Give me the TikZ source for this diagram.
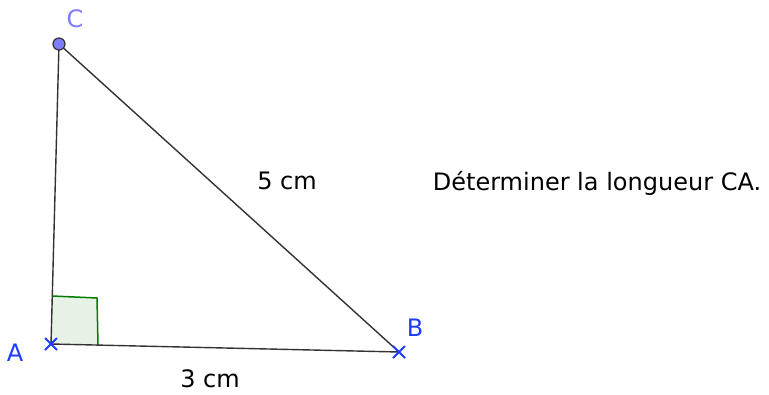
\documentclass[tikz,border=0pt]{standalone}
\usepackage{fontspec}
\setmainfont{DejaVu Sans}
\usetikzlibrary{calc}
\definecolor{ptblue}{HTML}{1E3CFF}
\definecolor{ptlight}{HTML}{7D7DFF}
\definecolor{anggreen}{HTML}{007D00}
\tikzset{
  seg/.style={draw=black!80, line width=1.4pt},
  lbl/.style={font=\fontsize{24}{28}\selectfont, inner sep=0pt},
  cross/.style={draw=ptblue, line width=1.8pt}
}
\begin{document}
\begin{tikzpicture}[x=1pt,y=-1pt]
\useasboundingbox (0,0) rectangle (769,394);
\coordinate (A) at (51,344);
\coordinate (B) at (399,352);
\coordinate (C) at (59,44);
\coordinate (Q1) at (98,345);
\coordinate (Q2) at (97,298);
\coordinate (Q3) at (52,296);
\fill[anggreen!10] (A) -- (Q1) -- (Q2) -- (Q3) -- cycle;
\draw[anggreen, line width=1.5pt] (Q1) -- (Q2) -- (Q3);
\draw[seg] (A) -- (B) -- (C) -- cycle;
\draw[cross] ($(A)+(-6,-6)$) -- ($(A)+(6,6)$) ($(A)+(-6,6)$) -- ($(A)+(6,-6)$);
\draw[cross] ($(B)+(-6,-6)$) -- ($(B)+(6,6)$) ($(B)+(-6,6)$) -- ($(B)+(6,-6)$);
\node[circle, fill=ptlight, draw=black!80, line width=1.2pt, minimum size=12pt, inner sep=0pt] (Cpt) at (C) {};
\node[lbl, text=ptlight] (Cl) at (75,19) {C};
\node[lbl, text=ptblue] (Al) at (15,353) {A};
\node[lbl, text=ptblue] (Bl) at (415,328) {B};
\node[lbl] (c5) at (287,181) {5 cm};
\node[lbl] (c3) at (210,379) {3 cm};
\node[lbl] (q) at (597,183) {Déterminer la longueur CA.};
\end{tikzpicture}
\end{document}
